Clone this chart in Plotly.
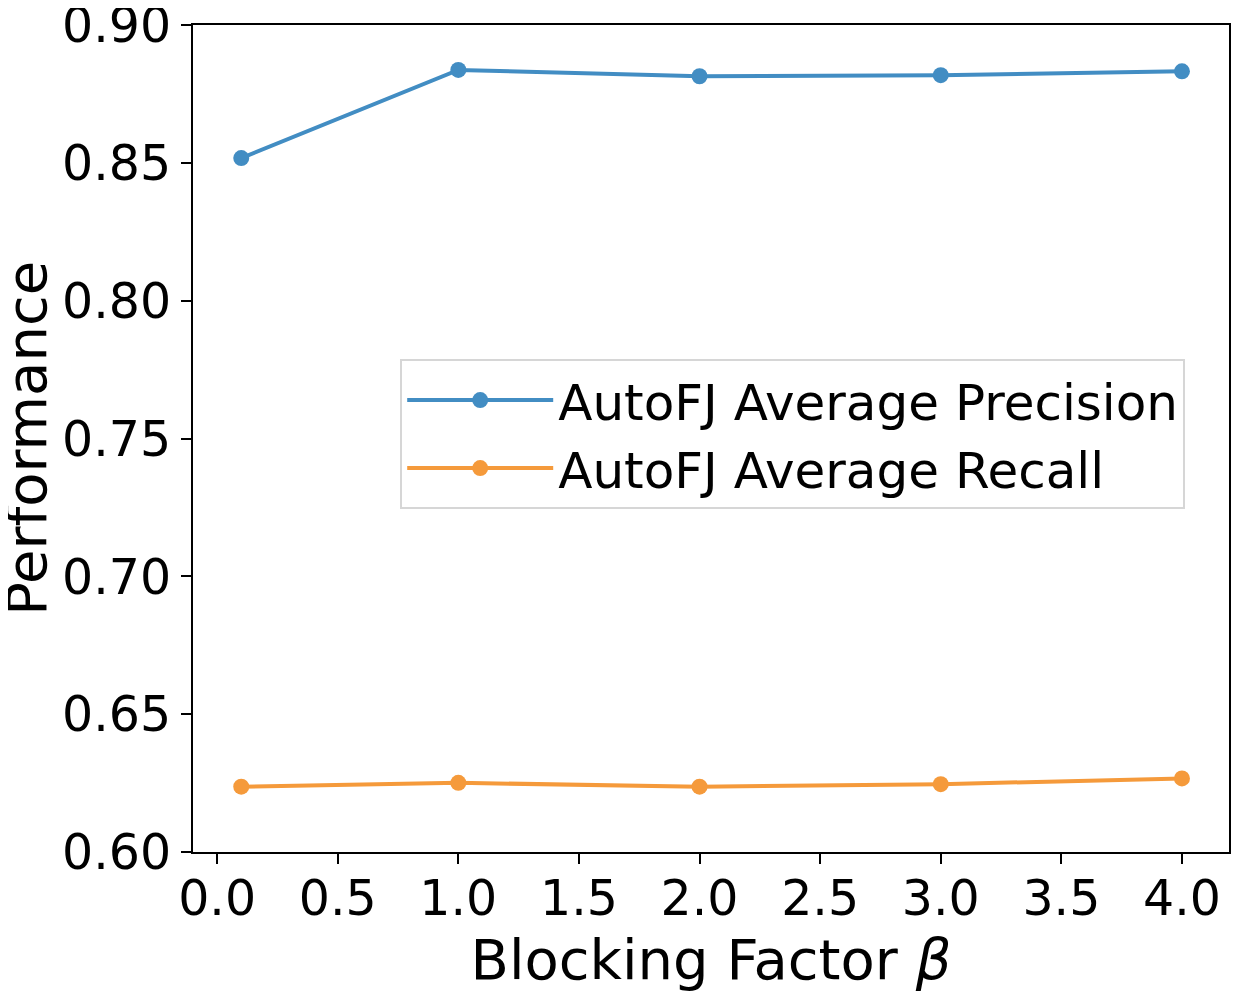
import plotly.graph_objects as go

# =============================================================================
# Values
# =============================================================================
beta = [0.1, 1.0, 2.0, 3.0, 4.0]
precision = [0.8518, 0.8838, 0.8815, 0.8819, 0.8833]
recall = [0.6237, 0.6251, 0.6237, 0.6246, 0.6267]

x_ticks = [0.0, 0.5, 1.0, 1.5, 2.0, 2.5, 3.0, 3.5, 4.0]
y_ticks = [0.60, 0.65, 0.70, 0.75, 0.80, 0.85, 0.90]

BLUE = "#428dc3"
ORANGE = "#f59a3b"
FONT = "DejaVu Sans"

fig = go.Figure()
fig.add_trace(go.Scatter(
    x=beta, y=precision, mode="lines+markers", name="AutoFJ Average Precision",
    line=dict(color=BLUE, width=4), marker=dict(color=BLUE, size=16),
))
fig.add_trace(go.Scatter(
    x=beta, y=recall, mode="lines+markers", name="AutoFJ Average Recall",
    line=dict(color=ORANGE, width=4), marker=dict(color=ORANGE, size=16),
))

axis_common = dict(
    showgrid=False, zeroline=False, automargin=False,
    showline=True, linecolor="black", linewidth=2, mirror=True,
    ticks="outside", ticklen=10, tickwidth=2, tickcolor="black",
    tickfont=dict(family=FONT, size=49, color="black"),
    ticklabeloverflow="allow",
)

fig.update_xaxes(
    range=[-0.1, 4.195], tickvals=x_ticks,
    ticktext=[f"{v:.1f}" for v in x_ticks],
    ticklabelstandoff=-8,
    title=dict(text="Blocking Factor <i>β</i>", standoff=14,
               font=dict(family=FONT, size=56, color="black")),
    **axis_common,
)
fig.update_yaxes(
    range=[0.60, 0.9001], tickvals=y_ticks,
    ticktext=[f"{v:.2f}" for v in y_ticks],
    **axis_common,
)

# y title as a rotated annotation so it can sit right against the left edge
fig.add_annotation(
    text="Performance", textangle=-90, showarrow=False,
    xref="paper", yref="paper", x=-0.161, y=0.5,
    xanchor="center", yanchor="middle",
    font=dict(family=FONT, size=56, color="black"),
)

# the page body adds an 8px margin, so the figure is sized to fit inside it
fig.update_layout(
    width=1244, height=986,
    margin=dict(l=185, r=23, t=17, b=142),
    plot_bgcolor="white", paper_bgcolor="white",
    font=dict(family=FONT, color="black"),
    legend=dict(
        x=0.2, y=0.596, xanchor="left", yanchor="top",
        bgcolor="rgba(255,255,255,0.8)", bordercolor="#d6d6d6", borderwidth=2,
        font=dict(family=FONT, size=50, color="black"),
        itemwidth=146,
    ),
)

fig.write_html("out.html")
